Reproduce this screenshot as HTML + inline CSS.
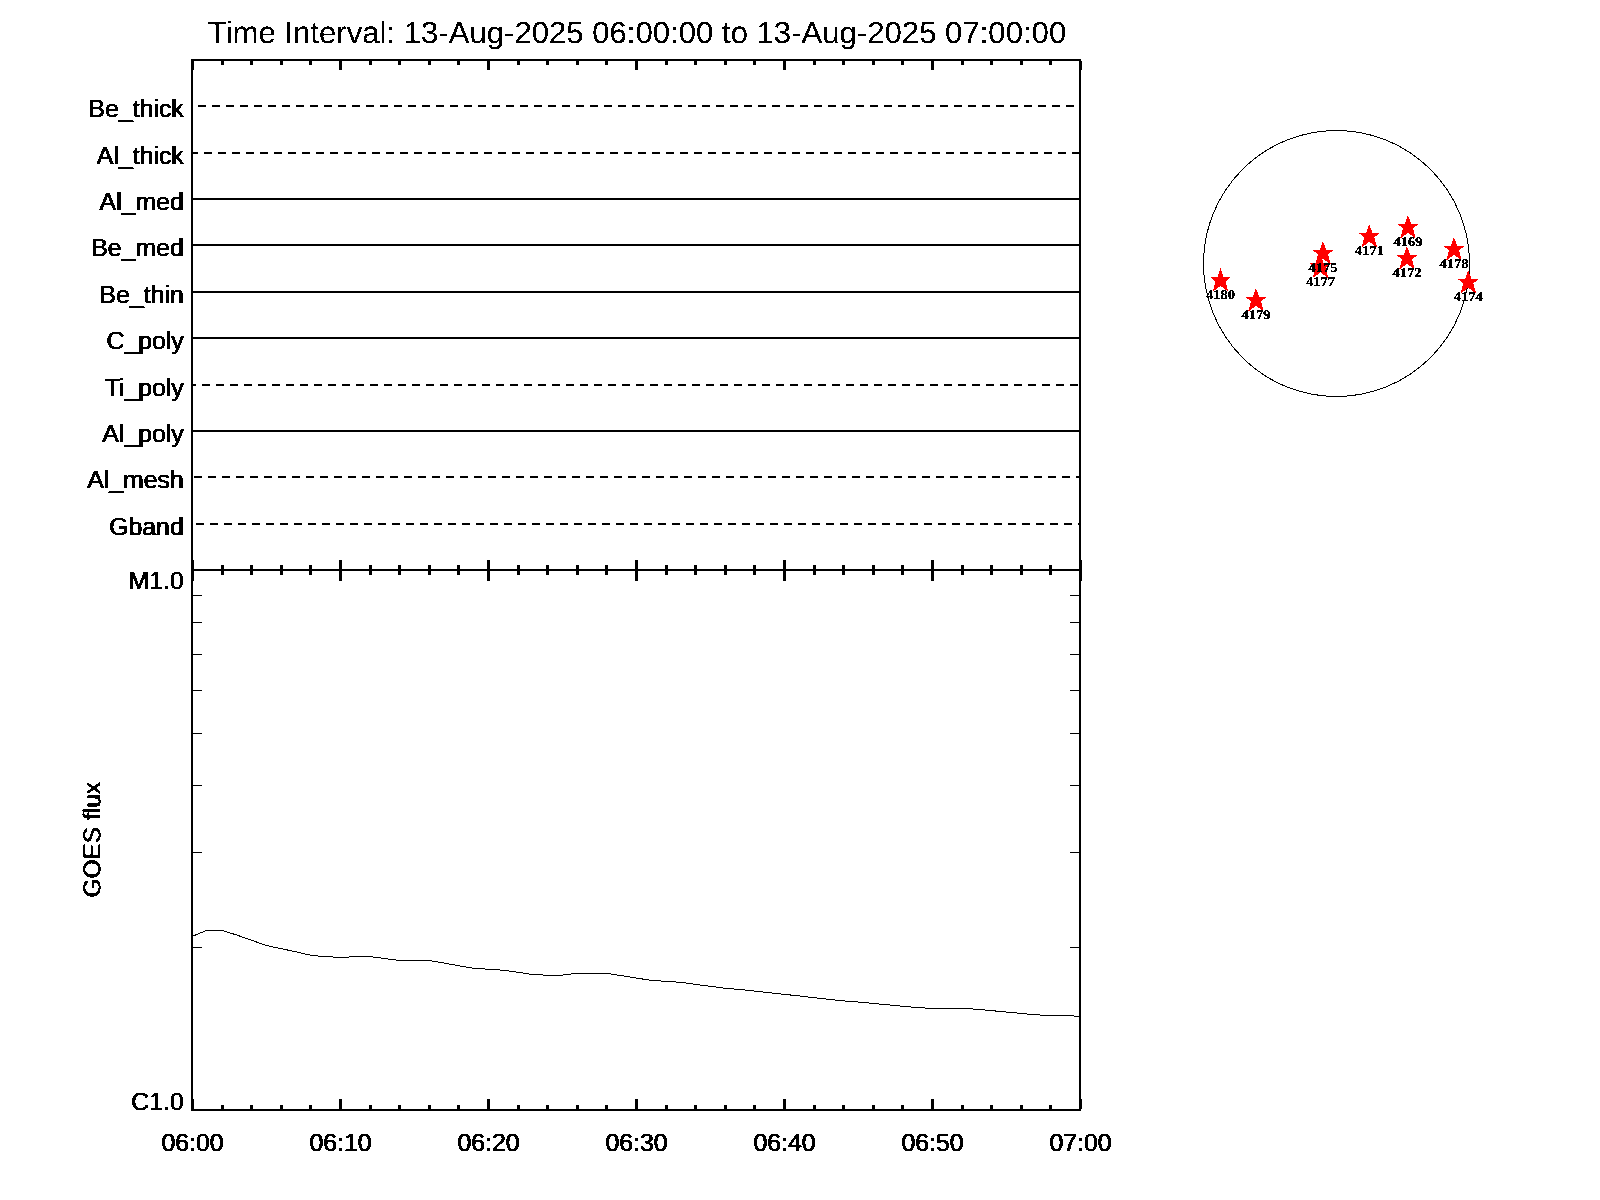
<!DOCTYPE html>
<html lang="en"><head><meta charset="utf-8"><title>XRT Filter Timeline and GOES flux</title>
<style>
html,body{margin:0;padding:0;background:#fff;}
body{width:1600px;height:1200px;overflow:hidden;}
svg{display:block;}
text{font-family:"Liberation Sans",sans-serif;fill:#000;text-rendering:geometricPrecision;stroke:#000;stroke-width:0px;}
.lab{font-size:24.8px;filter:url(#bw);}
.ttl{font-size:30.5px;filter:url(#bw0);stroke-width:0.15px;}
.ar{font-family:"Liberation Serif",serif;font-weight:bold;font-size:13.3px;stroke-width:0.3px;filter:url(#bw0);}
</style></head><body>
<svg width="1600" height="1200" viewBox="0 0 1600 1200">
<rect x="0" y="0" width="1600" height="1200" fill="#fff"/>
<defs><filter id="bw" x="-5%" y="-20%" width="110%" height="140%" color-interpolation-filters="sRGB"><feOffset in="SourceGraphic" dx="1" dy="0" result="o"/><feMerge result="m"><feMergeNode in="SourceGraphic"/><feMergeNode in="o"/></feMerge><feComponentTransfer in="m"><feFuncA type="discrete" tableValues="0 1"/></feComponentTransfer></filter><filter id="bw0" x="-10%" y="-20%" width="120%" height="140%" color-interpolation-filters="sRGB"><feComponentTransfer><feFuncA type="discrete" tableValues="0 1"/></feComponentTransfer></filter></defs>
<g>
<text class="ttl" transform="translate(637,43) scale(1.02,1)" text-anchor="middle">Time Interval: 13-Aug-2025 06:00:00 to 13-Aug-2025 07:00:00</text>
</g>
<g fill="#000" shape-rendering="crispEdges">
<rect x="191" y="59" width="890" height="2"/>
<rect x="191" y="569" width="890" height="2"/>
<rect x="191" y="1109" width="890" height="2"/>
<rect x="191" y="59" width="2" height="1052"/>
<rect x="1079" y="59" width="2" height="1052"/>
<rect x="191" y="61" width="3" height="9"/>
<rect x="191" y="560" width="3" height="21"/>
<rect x="191" y="1099" width="3" height="10"/>
<rect x="221" y="61" width="3" height="4"/>
<rect x="221" y="565" width="3" height="10"/>
<rect x="221" y="1105" width="3" height="4"/>
<rect x="250" y="61" width="3" height="4"/>
<rect x="250" y="565" width="3" height="10"/>
<rect x="250" y="1105" width="3" height="4"/>
<rect x="280" y="61" width="3" height="4"/>
<rect x="280" y="565" width="3" height="10"/>
<rect x="280" y="1105" width="3" height="4"/>
<rect x="309" y="61" width="3" height="4"/>
<rect x="309" y="565" width="3" height="10"/>
<rect x="309" y="1105" width="3" height="4"/>
<rect x="339" y="61" width="3" height="9"/>
<rect x="339" y="560" width="3" height="21"/>
<rect x="339" y="1099" width="3" height="10"/>
<rect x="369" y="61" width="3" height="4"/>
<rect x="369" y="565" width="3" height="10"/>
<rect x="369" y="1105" width="3" height="4"/>
<rect x="398" y="61" width="3" height="4"/>
<rect x="398" y="565" width="3" height="10"/>
<rect x="398" y="1105" width="3" height="4"/>
<rect x="428" y="61" width="3" height="4"/>
<rect x="428" y="565" width="3" height="10"/>
<rect x="428" y="1105" width="3" height="4"/>
<rect x="457" y="61" width="3" height="4"/>
<rect x="457" y="565" width="3" height="10"/>
<rect x="457" y="1105" width="3" height="4"/>
<rect x="487" y="61" width="3" height="9"/>
<rect x="487" y="560" width="3" height="21"/>
<rect x="487" y="1099" width="3" height="10"/>
<rect x="517" y="61" width="3" height="4"/>
<rect x="517" y="565" width="3" height="10"/>
<rect x="517" y="1105" width="3" height="4"/>
<rect x="546" y="61" width="3" height="4"/>
<rect x="546" y="565" width="3" height="10"/>
<rect x="546" y="1105" width="3" height="4"/>
<rect x="576" y="61" width="3" height="4"/>
<rect x="576" y="565" width="3" height="10"/>
<rect x="576" y="1105" width="3" height="4"/>
<rect x="605" y="61" width="3" height="4"/>
<rect x="605" y="565" width="3" height="10"/>
<rect x="605" y="1105" width="3" height="4"/>
<rect x="635" y="61" width="3" height="9"/>
<rect x="635" y="560" width="3" height="21"/>
<rect x="635" y="1099" width="3" height="10"/>
<rect x="665" y="61" width="3" height="4"/>
<rect x="665" y="565" width="3" height="10"/>
<rect x="665" y="1105" width="3" height="4"/>
<rect x="694" y="61" width="3" height="4"/>
<rect x="694" y="565" width="3" height="10"/>
<rect x="694" y="1105" width="3" height="4"/>
<rect x="724" y="61" width="3" height="4"/>
<rect x="724" y="565" width="3" height="10"/>
<rect x="724" y="1105" width="3" height="4"/>
<rect x="753" y="61" width="3" height="4"/>
<rect x="753" y="565" width="3" height="10"/>
<rect x="753" y="1105" width="3" height="4"/>
<rect x="783" y="61" width="3" height="9"/>
<rect x="783" y="560" width="3" height="21"/>
<rect x="783" y="1099" width="3" height="10"/>
<rect x="813" y="61" width="3" height="4"/>
<rect x="813" y="565" width="3" height="10"/>
<rect x="813" y="1105" width="3" height="4"/>
<rect x="842" y="61" width="3" height="4"/>
<rect x="842" y="565" width="3" height="10"/>
<rect x="842" y="1105" width="3" height="4"/>
<rect x="872" y="61" width="3" height="4"/>
<rect x="872" y="565" width="3" height="10"/>
<rect x="872" y="1105" width="3" height="4"/>
<rect x="901" y="61" width="3" height="4"/>
<rect x="901" y="565" width="3" height="10"/>
<rect x="901" y="1105" width="3" height="4"/>
<rect x="931" y="61" width="3" height="9"/>
<rect x="931" y="560" width="3" height="21"/>
<rect x="931" y="1099" width="3" height="10"/>
<rect x="961" y="61" width="3" height="4"/>
<rect x="961" y="565" width="3" height="10"/>
<rect x="961" y="1105" width="3" height="4"/>
<rect x="990" y="61" width="3" height="4"/>
<rect x="990" y="565" width="3" height="10"/>
<rect x="990" y="1105" width="3" height="4"/>
<rect x="1020" y="61" width="3" height="4"/>
<rect x="1020" y="565" width="3" height="10"/>
<rect x="1020" y="1105" width="3" height="4"/>
<rect x="1049" y="61" width="3" height="4"/>
<rect x="1049" y="565" width="3" height="10"/>
<rect x="1049" y="1105" width="3" height="4"/>
<rect x="1079" y="61" width="3" height="9"/>
<rect x="1079" y="560" width="3" height="21"/>
<rect x="1079" y="1099" width="3" height="10"/>
<rect x="193" y="947" width="9" height="1"/>
<rect x="1070" y="947" width="9" height="1"/>
<rect x="193" y="852" width="9" height="1"/>
<rect x="1070" y="852" width="9" height="1"/>
<rect x="193" y="785" width="9" height="1"/>
<rect x="1070" y="785" width="9" height="1"/>
<rect x="193" y="733" width="9" height="1"/>
<rect x="1070" y="733" width="9" height="1"/>
<rect x="193" y="690" width="9" height="1"/>
<rect x="1070" y="690" width="9" height="1"/>
<rect x="193" y="654" width="9" height="1"/>
<rect x="1070" y="654" width="9" height="1"/>
<rect x="193" y="622" width="9" height="1"/>
<rect x="1070" y="622" width="9" height="1"/>
<rect x="193" y="595" width="9" height="1"/>
<rect x="1070" y="595" width="9" height="1"/>
<rect x="198" y="105" width="8" height="2"/>
<rect x="212" y="105" width="8" height="2"/>
<rect x="226" y="105" width="8" height="2"/>
<rect x="240" y="105" width="8" height="2"/>
<rect x="254" y="105" width="8" height="2"/>
<rect x="268" y="105" width="8" height="2"/>
<rect x="282" y="105" width="8" height="2"/>
<rect x="296" y="105" width="8" height="2"/>
<rect x="310" y="105" width="8" height="2"/>
<rect x="324" y="105" width="8" height="2"/>
<rect x="338" y="105" width="8" height="2"/>
<rect x="352" y="105" width="8" height="2"/>
<rect x="366" y="105" width="8" height="2"/>
<rect x="380" y="105" width="8" height="2"/>
<rect x="394" y="105" width="8" height="2"/>
<rect x="408" y="105" width="8" height="2"/>
<rect x="422" y="105" width="8" height="2"/>
<rect x="436" y="105" width="8" height="2"/>
<rect x="450" y="105" width="8" height="2"/>
<rect x="464" y="105" width="8" height="2"/>
<rect x="478" y="105" width="8" height="2"/>
<rect x="492" y="105" width="8" height="2"/>
<rect x="506" y="105" width="8" height="2"/>
<rect x="520" y="105" width="8" height="2"/>
<rect x="534" y="105" width="8" height="2"/>
<rect x="548" y="105" width="8" height="2"/>
<rect x="562" y="105" width="8" height="2"/>
<rect x="576" y="105" width="8" height="2"/>
<rect x="590" y="105" width="8" height="2"/>
<rect x="604" y="105" width="8" height="2"/>
<rect x="618" y="105" width="8" height="2"/>
<rect x="632" y="105" width="8" height="2"/>
<rect x="646" y="105" width="8" height="2"/>
<rect x="660" y="105" width="8" height="2"/>
<rect x="674" y="105" width="8" height="2"/>
<rect x="688" y="105" width="8" height="2"/>
<rect x="702" y="105" width="8" height="2"/>
<rect x="716" y="105" width="8" height="2"/>
<rect x="730" y="105" width="8" height="2"/>
<rect x="744" y="105" width="8" height="2"/>
<rect x="758" y="105" width="8" height="2"/>
<rect x="772" y="105" width="8" height="2"/>
<rect x="786" y="105" width="8" height="2"/>
<rect x="800" y="105" width="8" height="2"/>
<rect x="814" y="105" width="8" height="2"/>
<rect x="828" y="105" width="8" height="2"/>
<rect x="842" y="105" width="8" height="2"/>
<rect x="856" y="105" width="8" height="2"/>
<rect x="870" y="105" width="8" height="2"/>
<rect x="884" y="105" width="8" height="2"/>
<rect x="898" y="105" width="8" height="2"/>
<rect x="912" y="105" width="8" height="2"/>
<rect x="926" y="105" width="8" height="2"/>
<rect x="940" y="105" width="8" height="2"/>
<rect x="954" y="105" width="8" height="2"/>
<rect x="968" y="105" width="8" height="2"/>
<rect x="982" y="105" width="8" height="2"/>
<rect x="996" y="105" width="8" height="2"/>
<rect x="1010" y="105" width="8" height="2"/>
<rect x="1024" y="105" width="8" height="2"/>
<rect x="1038" y="105" width="8" height="2"/>
<rect x="1052" y="105" width="8" height="2"/>
<rect x="1066" y="105" width="8" height="2"/>
<rect x="193" y="152" width="5" height="2"/>
<rect x="204" y="152" width="8" height="2"/>
<rect x="218" y="152" width="8" height="2"/>
<rect x="232" y="152" width="8" height="2"/>
<rect x="246" y="152" width="8" height="2"/>
<rect x="260" y="152" width="8" height="2"/>
<rect x="274" y="152" width="8" height="2"/>
<rect x="288" y="152" width="8" height="2"/>
<rect x="302" y="152" width="8" height="2"/>
<rect x="316" y="152" width="8" height="2"/>
<rect x="330" y="152" width="8" height="2"/>
<rect x="344" y="152" width="8" height="2"/>
<rect x="358" y="152" width="8" height="2"/>
<rect x="372" y="152" width="8" height="2"/>
<rect x="386" y="152" width="8" height="2"/>
<rect x="400" y="152" width="8" height="2"/>
<rect x="414" y="152" width="8" height="2"/>
<rect x="428" y="152" width="8" height="2"/>
<rect x="442" y="152" width="8" height="2"/>
<rect x="456" y="152" width="8" height="2"/>
<rect x="470" y="152" width="8" height="2"/>
<rect x="484" y="152" width="8" height="2"/>
<rect x="498" y="152" width="8" height="2"/>
<rect x="512" y="152" width="8" height="2"/>
<rect x="526" y="152" width="8" height="2"/>
<rect x="540" y="152" width="8" height="2"/>
<rect x="554" y="152" width="8" height="2"/>
<rect x="568" y="152" width="8" height="2"/>
<rect x="582" y="152" width="8" height="2"/>
<rect x="596" y="152" width="8" height="2"/>
<rect x="610" y="152" width="8" height="2"/>
<rect x="624" y="152" width="8" height="2"/>
<rect x="638" y="152" width="8" height="2"/>
<rect x="652" y="152" width="8" height="2"/>
<rect x="666" y="152" width="8" height="2"/>
<rect x="680" y="152" width="8" height="2"/>
<rect x="694" y="152" width="8" height="2"/>
<rect x="708" y="152" width="8" height="2"/>
<rect x="722" y="152" width="8" height="2"/>
<rect x="736" y="152" width="8" height="2"/>
<rect x="750" y="152" width="8" height="2"/>
<rect x="764" y="152" width="8" height="2"/>
<rect x="778" y="152" width="8" height="2"/>
<rect x="792" y="152" width="8" height="2"/>
<rect x="806" y="152" width="8" height="2"/>
<rect x="820" y="152" width="8" height="2"/>
<rect x="834" y="152" width="8" height="2"/>
<rect x="848" y="152" width="8" height="2"/>
<rect x="862" y="152" width="8" height="2"/>
<rect x="876" y="152" width="8" height="2"/>
<rect x="890" y="152" width="8" height="2"/>
<rect x="904" y="152" width="8" height="2"/>
<rect x="918" y="152" width="8" height="2"/>
<rect x="932" y="152" width="8" height="2"/>
<rect x="946" y="152" width="8" height="2"/>
<rect x="960" y="152" width="8" height="2"/>
<rect x="974" y="152" width="8" height="2"/>
<rect x="988" y="152" width="8" height="2"/>
<rect x="1002" y="152" width="8" height="2"/>
<rect x="1016" y="152" width="8" height="2"/>
<rect x="1030" y="152" width="8" height="2"/>
<rect x="1044" y="152" width="8" height="2"/>
<rect x="1058" y="152" width="8" height="2"/>
<rect x="1072" y="152" width="7" height="2"/>
<rect x="193" y="198" width="886" height="2"/>
<rect x="193" y="244" width="886" height="2"/>
<rect x="193" y="291" width="886" height="2"/>
<rect x="193" y="337" width="886" height="2"/>
<rect x="193" y="384" width="3" height="2"/>
<rect x="202" y="384" width="8" height="2"/>
<rect x="216" y="384" width="8" height="2"/>
<rect x="230" y="384" width="8" height="2"/>
<rect x="244" y="384" width="8" height="2"/>
<rect x="258" y="384" width="8" height="2"/>
<rect x="272" y="384" width="8" height="2"/>
<rect x="286" y="384" width="8" height="2"/>
<rect x="300" y="384" width="8" height="2"/>
<rect x="314" y="384" width="8" height="2"/>
<rect x="328" y="384" width="8" height="2"/>
<rect x="342" y="384" width="8" height="2"/>
<rect x="356" y="384" width="8" height="2"/>
<rect x="370" y="384" width="8" height="2"/>
<rect x="384" y="384" width="8" height="2"/>
<rect x="398" y="384" width="8" height="2"/>
<rect x="412" y="384" width="8" height="2"/>
<rect x="426" y="384" width="8" height="2"/>
<rect x="440" y="384" width="8" height="2"/>
<rect x="454" y="384" width="8" height="2"/>
<rect x="468" y="384" width="8" height="2"/>
<rect x="482" y="384" width="8" height="2"/>
<rect x="496" y="384" width="8" height="2"/>
<rect x="510" y="384" width="8" height="2"/>
<rect x="524" y="384" width="8" height="2"/>
<rect x="538" y="384" width="8" height="2"/>
<rect x="552" y="384" width="8" height="2"/>
<rect x="566" y="384" width="8" height="2"/>
<rect x="580" y="384" width="8" height="2"/>
<rect x="594" y="384" width="8" height="2"/>
<rect x="608" y="384" width="8" height="2"/>
<rect x="622" y="384" width="8" height="2"/>
<rect x="636" y="384" width="8" height="2"/>
<rect x="650" y="384" width="8" height="2"/>
<rect x="664" y="384" width="8" height="2"/>
<rect x="678" y="384" width="8" height="2"/>
<rect x="692" y="384" width="8" height="2"/>
<rect x="706" y="384" width="8" height="2"/>
<rect x="720" y="384" width="8" height="2"/>
<rect x="734" y="384" width="8" height="2"/>
<rect x="748" y="384" width="8" height="2"/>
<rect x="762" y="384" width="8" height="2"/>
<rect x="776" y="384" width="8" height="2"/>
<rect x="790" y="384" width="8" height="2"/>
<rect x="804" y="384" width="8" height="2"/>
<rect x="818" y="384" width="8" height="2"/>
<rect x="832" y="384" width="8" height="2"/>
<rect x="846" y="384" width="8" height="2"/>
<rect x="860" y="384" width="8" height="2"/>
<rect x="874" y="384" width="8" height="2"/>
<rect x="888" y="384" width="8" height="2"/>
<rect x="902" y="384" width="8" height="2"/>
<rect x="916" y="384" width="8" height="2"/>
<rect x="930" y="384" width="8" height="2"/>
<rect x="944" y="384" width="8" height="2"/>
<rect x="958" y="384" width="8" height="2"/>
<rect x="972" y="384" width="8" height="2"/>
<rect x="986" y="384" width="8" height="2"/>
<rect x="1000" y="384" width="8" height="2"/>
<rect x="1014" y="384" width="8" height="2"/>
<rect x="1028" y="384" width="8" height="2"/>
<rect x="1042" y="384" width="8" height="2"/>
<rect x="1056" y="384" width="8" height="2"/>
<rect x="1070" y="384" width="8" height="2"/>
<rect x="193" y="430" width="886" height="2"/>
<rect x="194" y="476" width="8" height="2"/>
<rect x="208" y="476" width="8" height="2"/>
<rect x="222" y="476" width="8" height="2"/>
<rect x="236" y="476" width="8" height="2"/>
<rect x="250" y="476" width="8" height="2"/>
<rect x="264" y="476" width="8" height="2"/>
<rect x="278" y="476" width="8" height="2"/>
<rect x="292" y="476" width="8" height="2"/>
<rect x="306" y="476" width="8" height="2"/>
<rect x="320" y="476" width="8" height="2"/>
<rect x="334" y="476" width="8" height="2"/>
<rect x="348" y="476" width="8" height="2"/>
<rect x="362" y="476" width="8" height="2"/>
<rect x="376" y="476" width="8" height="2"/>
<rect x="390" y="476" width="8" height="2"/>
<rect x="404" y="476" width="8" height="2"/>
<rect x="418" y="476" width="8" height="2"/>
<rect x="432" y="476" width="8" height="2"/>
<rect x="446" y="476" width="8" height="2"/>
<rect x="460" y="476" width="8" height="2"/>
<rect x="474" y="476" width="8" height="2"/>
<rect x="488" y="476" width="8" height="2"/>
<rect x="502" y="476" width="8" height="2"/>
<rect x="516" y="476" width="8" height="2"/>
<rect x="530" y="476" width="8" height="2"/>
<rect x="544" y="476" width="8" height="2"/>
<rect x="558" y="476" width="8" height="2"/>
<rect x="572" y="476" width="8" height="2"/>
<rect x="586" y="476" width="8" height="2"/>
<rect x="600" y="476" width="8" height="2"/>
<rect x="614" y="476" width="8" height="2"/>
<rect x="628" y="476" width="8" height="2"/>
<rect x="642" y="476" width="8" height="2"/>
<rect x="656" y="476" width="8" height="2"/>
<rect x="670" y="476" width="8" height="2"/>
<rect x="684" y="476" width="8" height="2"/>
<rect x="698" y="476" width="8" height="2"/>
<rect x="712" y="476" width="8" height="2"/>
<rect x="726" y="476" width="8" height="2"/>
<rect x="740" y="476" width="8" height="2"/>
<rect x="754" y="476" width="8" height="2"/>
<rect x="768" y="476" width="8" height="2"/>
<rect x="782" y="476" width="8" height="2"/>
<rect x="796" y="476" width="8" height="2"/>
<rect x="810" y="476" width="8" height="2"/>
<rect x="824" y="476" width="8" height="2"/>
<rect x="838" y="476" width="8" height="2"/>
<rect x="852" y="476" width="8" height="2"/>
<rect x="866" y="476" width="8" height="2"/>
<rect x="880" y="476" width="8" height="2"/>
<rect x="894" y="476" width="8" height="2"/>
<rect x="908" y="476" width="8" height="2"/>
<rect x="922" y="476" width="8" height="2"/>
<rect x="936" y="476" width="8" height="2"/>
<rect x="950" y="476" width="8" height="2"/>
<rect x="964" y="476" width="8" height="2"/>
<rect x="978" y="476" width="8" height="2"/>
<rect x="992" y="476" width="8" height="2"/>
<rect x="1006" y="476" width="8" height="2"/>
<rect x="1020" y="476" width="8" height="2"/>
<rect x="1034" y="476" width="8" height="2"/>
<rect x="1048" y="476" width="8" height="2"/>
<rect x="1062" y="476" width="8" height="2"/>
<rect x="1076" y="476" width="3" height="2"/>
<rect x="196" y="523" width="8" height="2"/>
<rect x="210" y="523" width="8" height="2"/>
<rect x="224" y="523" width="8" height="2"/>
<rect x="238" y="523" width="8" height="2"/>
<rect x="252" y="523" width="8" height="2"/>
<rect x="266" y="523" width="8" height="2"/>
<rect x="280" y="523" width="8" height="2"/>
<rect x="294" y="523" width="8" height="2"/>
<rect x="308" y="523" width="8" height="2"/>
<rect x="322" y="523" width="8" height="2"/>
<rect x="336" y="523" width="8" height="2"/>
<rect x="350" y="523" width="8" height="2"/>
<rect x="364" y="523" width="8" height="2"/>
<rect x="378" y="523" width="8" height="2"/>
<rect x="392" y="523" width="8" height="2"/>
<rect x="406" y="523" width="8" height="2"/>
<rect x="420" y="523" width="8" height="2"/>
<rect x="434" y="523" width="8" height="2"/>
<rect x="448" y="523" width="8" height="2"/>
<rect x="462" y="523" width="8" height="2"/>
<rect x="476" y="523" width="8" height="2"/>
<rect x="490" y="523" width="8" height="2"/>
<rect x="504" y="523" width="8" height="2"/>
<rect x="518" y="523" width="8" height="2"/>
<rect x="532" y="523" width="8" height="2"/>
<rect x="546" y="523" width="8" height="2"/>
<rect x="560" y="523" width="8" height="2"/>
<rect x="574" y="523" width="8" height="2"/>
<rect x="588" y="523" width="8" height="2"/>
<rect x="602" y="523" width="8" height="2"/>
<rect x="616" y="523" width="8" height="2"/>
<rect x="630" y="523" width="8" height="2"/>
<rect x="644" y="523" width="8" height="2"/>
<rect x="658" y="523" width="8" height="2"/>
<rect x="672" y="523" width="8" height="2"/>
<rect x="686" y="523" width="8" height="2"/>
<rect x="700" y="523" width="8" height="2"/>
<rect x="714" y="523" width="8" height="2"/>
<rect x="728" y="523" width="8" height="2"/>
<rect x="742" y="523" width="8" height="2"/>
<rect x="756" y="523" width="8" height="2"/>
<rect x="770" y="523" width="8" height="2"/>
<rect x="784" y="523" width="8" height="2"/>
<rect x="798" y="523" width="8" height="2"/>
<rect x="812" y="523" width="8" height="2"/>
<rect x="826" y="523" width="8" height="2"/>
<rect x="840" y="523" width="8" height="2"/>
<rect x="854" y="523" width="8" height="2"/>
<rect x="868" y="523" width="8" height="2"/>
<rect x="882" y="523" width="8" height="2"/>
<rect x="896" y="523" width="8" height="2"/>
<rect x="910" y="523" width="8" height="2"/>
<rect x="924" y="523" width="8" height="2"/>
<rect x="938" y="523" width="8" height="2"/>
<rect x="952" y="523" width="8" height="2"/>
<rect x="966" y="523" width="8" height="2"/>
<rect x="980" y="523" width="8" height="2"/>
<rect x="994" y="523" width="8" height="2"/>
<rect x="1008" y="523" width="8" height="2"/>
<rect x="1022" y="523" width="8" height="2"/>
<rect x="1036" y="523" width="8" height="2"/>
<rect x="1050" y="523" width="8" height="2"/>
<rect x="1064" y="523" width="8" height="2"/>
<rect x="1078" y="523" width="1" height="2"/>
</g>
<g>
<text class="lab" x="183.2" y="106" dy="11" text-anchor="end">Be_thick</text>
<text class="lab" x="183.2" y="153" dy="11" text-anchor="end">Al_thick</text>
<text class="lab" x="183.2" y="199" dy="11" text-anchor="end">Al_med</text>
<text class="lab" x="183.2" y="245" dy="11" text-anchor="end">Be_med</text>
<text class="lab" x="183.2" y="292" dy="11" text-anchor="end">Be_thin</text>
<text class="lab" x="183.2" y="338" dy="11" text-anchor="end">C_poly</text>
<text class="lab" x="183.2" y="385" dy="11" text-anchor="end">Ti_poly</text>
<text class="lab" x="183.2" y="431" dy="11" text-anchor="end">Al_poly</text>
<text class="lab" x="183.2" y="477" dy="11" text-anchor="end">Al_mesh</text>
<text class="lab" x="183.2" y="524" dy="11" text-anchor="end">Gband</text>
<text class="lab" x="183.2" y="589" text-anchor="end">M1.0</text>
<text class="lab" x="183.2" y="1109.5" text-anchor="end">C1.0</text>
<text class="lab" x="192" dx="0" y="1151.25" text-anchor="middle">06:00</text>
<text class="lab" x="340" dx="0" y="1151.25" text-anchor="middle">06:10</text>
<text class="lab" x="488" dx="0" y="1151.25" text-anchor="middle">06:20</text>
<text class="lab" x="636" dx="0" y="1151.25" text-anchor="middle">06:30</text>
<text class="lab" x="784" dx="0" y="1151.25" text-anchor="middle">06:40</text>
<text class="lab" x="932" dx="0" y="1151.25" text-anchor="middle">06:50</text>
<text class="lab" x="1080" dx="0" y="1151.25" text-anchor="middle">07:00</text>
<text class="lab" style="font-size:24.5px" transform="translate(100.4,840.3) rotate(-90)" text-anchor="middle">GOES flux</text>
</g>
<polyline points="192.0,936.5 206.8,930.3 221.6,930.3 236.4,934.9 251.2,940.1 266.0,945.4 280.8,948.6 295.6,951.7 310.4,955.2 325.2,956.7 340.0,957.3 354.8,956.8 369.6,956.5 384.4,958.5 399.2,960.4 414.0,960.5 428.8,960.5 443.6,963.0 458.4,965.7 473.2,968.2 488.0,969.2 502.8,970.2 517.6,972.2 532.4,974.5 547.2,975.2 562.0,975.2 576.8,973.3 591.6,973.3 606.4,973.3 621.2,975.6 636.0,978.0 650.8,980.3 665.6,981.3 680.4,982.3 695.2,984.3 710.0,986.3 724.8,988.2 739.6,989.5 754.4,991.0 769.2,992.7 784.0,994.3 798.8,995.9 813.6,997.6 828.4,999.3 843.2,1000.9 858.0,1002.0 872.8,1003.4 887.6,1004.8 902.4,1006.2 917.2,1007.6 932.0,1008.4 946.8,1008.4 961.6,1008.4 976.4,1009.2 991.2,1010.6 1006.0,1012.0 1020.8,1013.4 1035.6,1014.8 1050.4,1015.5 1065.2,1015.5 1080.0,1016.4" fill="none" stroke="#000" stroke-width="1" shape-rendering="crispEdges"/>
<circle cx="1336.5" cy="263.5" r="133" fill="none" stroke="#000" stroke-width="1" shape-rendering="crispEdges"/>
<polygon points="1220.5,268.1 1223.5,276.7 1231.5,276.7 1225.5,281.3 1228.3,291.6 1220.5,285.8 1212.7,291.6 1215.5,281.3 1209.5,276.7 1217.5,276.7" fill="#f00" shape-rendering="crispEdges"/>
<polygon points="1256.0,288.1 1259.0,296.7 1267.0,296.7 1261.0,301.3 1263.8,311.6 1256.0,305.8 1248.2,311.6 1251.0,301.3 1245.0,296.7 1253.0,296.7" fill="#f00" shape-rendering="crispEdges"/>
<polygon points="1323.0,241.1 1326.0,249.7 1334.0,249.7 1328.0,254.3 1330.8,264.6 1323.0,258.8 1315.2,264.6 1318.0,254.3 1312.0,249.7 1320.0,249.7" fill="#f00" shape-rendering="crispEdges"/>
<polygon points="1320.5,254.6 1323.5,263.2 1331.5,263.2 1325.5,267.8 1328.3,278.1 1320.5,272.3 1312.7,278.1 1315.5,267.8 1309.5,263.2 1317.5,263.2" fill="#f00" shape-rendering="crispEdges"/>
<polygon points="1369.3,224.1 1372.3,232.7 1380.3,232.7 1374.3,237.3 1377.1,247.6 1369.3,241.8 1361.5,247.6 1364.3,237.3 1358.3,232.7 1366.3,232.7" fill="#f00" shape-rendering="crispEdges"/>
<polygon points="1408.0,215.1 1411.0,223.7 1419.0,223.7 1413.0,228.3 1415.8,238.6 1408.0,232.8 1400.2,238.6 1403.0,228.3 1397.0,223.7 1405.0,223.7" fill="#f00" shape-rendering="crispEdges"/>
<polygon points="1407.0,246.1 1410.0,254.7 1418.0,254.7 1412.0,259.3 1414.8,269.6 1407.0,263.8 1399.2,269.6 1402.0,259.3 1396.0,254.7 1404.0,254.7" fill="#f00" shape-rendering="crispEdges"/>
<polygon points="1454.0,237.1 1457.0,245.7 1465.0,245.7 1459.0,250.3 1461.8,260.6 1454.0,254.8 1446.2,260.6 1449.0,250.3 1443.0,245.7 1451.0,245.7" fill="#f00" shape-rendering="crispEdges"/>
<polygon points="1468.3,270.1 1471.3,278.7 1479.3,278.7 1473.3,283.3 1476.1,293.6 1468.3,287.8 1460.5,293.6 1463.3,283.3 1457.3,278.7 1465.3,278.7" fill="#f00" shape-rendering="crispEdges"/>
<text class="ar" x="1220.5" y="299" text-anchor="middle" textLength="29" lengthAdjust="spacingAndGlyphs">4180</text>
<text class="ar" x="1256" y="319" text-anchor="middle" textLength="29" lengthAdjust="spacingAndGlyphs">4179</text>
<text class="ar" x="1323" y="272" text-anchor="middle" textLength="29" lengthAdjust="spacingAndGlyphs">4175</text>
<text class="ar" x="1320.5" y="285.5" text-anchor="middle" textLength="29" lengthAdjust="spacingAndGlyphs">4177</text>
<text class="ar" x="1369.3" y="255" text-anchor="middle" textLength="29" lengthAdjust="spacingAndGlyphs">4171</text>
<text class="ar" x="1408" y="246" text-anchor="middle" textLength="29" lengthAdjust="spacingAndGlyphs">4169</text>
<text class="ar" x="1407" y="277" text-anchor="middle" textLength="29" lengthAdjust="spacingAndGlyphs">4172</text>
<text class="ar" x="1454" y="268" text-anchor="middle" textLength="29" lengthAdjust="spacingAndGlyphs">4178</text>
<text class="ar" x="1468.3" y="301" text-anchor="middle" textLength="29" lengthAdjust="spacingAndGlyphs">4174</text>
</svg>
</body></html>
